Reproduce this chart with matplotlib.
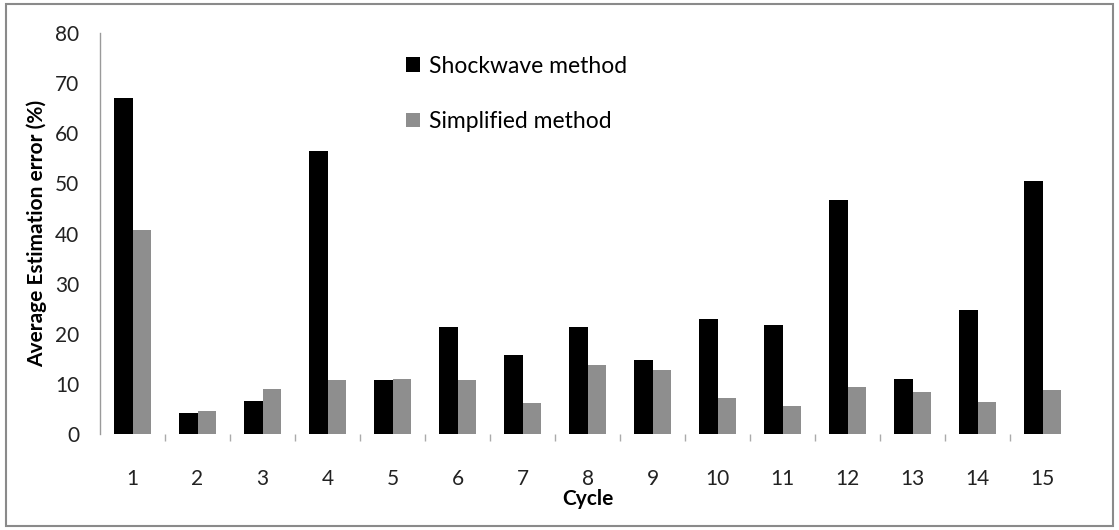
import matplotlib
matplotlib.use("Agg")
import matplotlib.pyplot as plt
import numpy as np
from matplotlib.patches import Rectangle

# data
cycles = [str(i) for i in range(1, 16)]
shockwave = [67.1, 4.3, 6.6, 56.5, 10.7, 21.3, 15.7, 21.3, 14.7, 23.0, 21.8, 46.7, 10.9, 24.8, 50.5]
simplified = [40.8, 4.6, 8.9, 10.7, 10.9, 10.7, 6.1, 13.7, 12.7, 7.1, 5.6, 9.3, 8.4, 6.4, 8.7]
yticks = [0, 10, 20, 30, 40, 50, 60, 70, 80]

plt.rcParams['font.family'] = ['Lato', 'DejaVu Sans']

fig = plt.figure(figsize=(11.19, 5.30), dpi=100)
ax = fig.add_axes([0.0894, 0.181, 0.8713, 0.7567])

# frame around the whole picture
fig.patches.append(Rectangle((0.005, 0.008), 0.99, 0.985, transform=fig.transFigure,
                             fill=False, edgecolor='#8a8a8a', linewidth=1.5))

x = np.arange(len(cycles))
width = 0.29
ax.bar(x - width/2, shockwave, width, color='black', label='Shockwave method')
ax.bar(x + width/2, simplified, width, color='#8e8e8e', label='Simplified method')

ax.set_xlim(-0.5, len(cycles) - 0.5)
ax.set_ylim(0, 80)
ax.set_yticks(yticks)
ax.set_yticklabels([str(v) for v in yticks], fontsize=15, color='#222222')
ax.tick_params(axis='y', length=0, pad=15)

ax.set_xticks(x)
ax.set_xticklabels(cycles, fontsize=15, color='#222222')
ax.tick_params(axis='x', length=0, pad=25)
ax.set_xticks(np.arange(0.5, len(cycles) - 1, 1), minor=True)
ax.tick_params(axis='x', which='minor', length=5, width=1, color='#aaaaaa', direction='out')

for s in ['top', 'right', 'bottom']:
    ax.spines[s].set_visible(False)
ax.spines['left'].set_color('#9a9a9a')
ax.spines['left'].set_linestyle((0, (4, 1)))
ax.spines['left'].set_linewidth(1)

ax.set_ylabel('Average Estimation error (%)', fontsize=15, fontweight='bold', labelpad=6)
ax.set_xlabel('Cycle', fontsize=15, fontweight='bold', labelpad=0)

ax.legend(loc='upper left', bbox_to_anchor=(0.293, 0.995), frameon=False, fontsize=16.5,
          handlelength=0.6, handleheight=0.6, handletextpad=0.4, labelspacing=1.5)

fig.savefig('out.png', dpi=100)
